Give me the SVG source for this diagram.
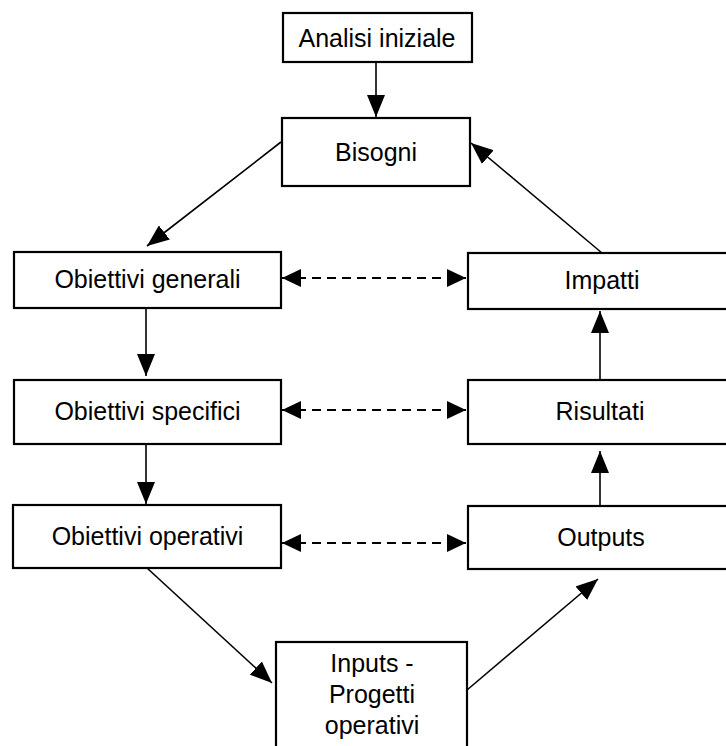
<svg xmlns="http://www.w3.org/2000/svg" width="726" height="746" viewBox="0 0 726 746">
  <style>
    .box { fill: #fff; stroke: #000; stroke-width: 2.2; }
    .lbl { font-family: "Liberation Sans", Arial, sans-serif; font-size: 25px; fill: #000; text-anchor: middle; }
    .conn { fill: none; stroke: #000; stroke-width: 1.6; }
    .dash { fill: none; stroke: #000; stroke-width: 2; stroke-dasharray: 9 6; }
  </style>
  <defs>
    <marker id="ah" viewBox="0 0 22 18" refX="22" refY="9" markerWidth="22" markerHeight="18" markerUnits="userSpaceOnUse" orient="auto-start-reverse">
      <path d="M0,0 L22,9 L0,18 z" fill="#000"/>
    </marker>
    <marker id="dh" viewBox="0 0 19 18" refX="19" refY="9" markerWidth="19" markerHeight="18" markerUnits="userSpaceOnUse" orient="auto-start-reverse">
      <path d="M0,0 L19,9 L0,18 z" fill="#000"/>
    </marker>
  </defs>
  <rect width="726" height="746" fill="#fff"/>

  <g id="connectors">
    <line class="conn" x1="376" y1="62" x2="376" y2="117" marker-end="url(#ah)"/>
    <line class="conn" x1="281" y1="142" x2="147" y2="246" marker-end="url(#ah)"/>
    <line class="conn" x1="602" y1="253" x2="471" y2="143" marker-end="url(#ah)"/>
    <line class="conn" x1="146" y1="308" x2="146" y2="376" marker-end="url(#ah)"/>
    <line class="conn" x1="146" y1="444" x2="146" y2="504" marker-end="url(#ah)"/>
    <line class="conn" x1="147" y1="568" x2="272" y2="683" marker-end="url(#ah)"/>
    <line class="conn" x1="467" y1="690" x2="598" y2="579" marker-end="url(#ah)"/>
    <line class="conn" x1="600" y1="506" x2="600" y2="451" marker-end="url(#ah)"/>
    <line class="conn" x1="600" y1="380" x2="600" y2="311" marker-end="url(#ah)"/>
    <line class="dash" x1="282" y1="278" x2="466" y2="278" marker-start="url(#dh)" marker-end="url(#dh)"/>
    <line class="dash" x1="282" y1="410" x2="466" y2="410" marker-start="url(#dh)" marker-end="url(#dh)"/>
    <line class="dash" x1="282" y1="543" x2="466" y2="543" marker-start="url(#dh)" marker-end="url(#dh)"/>
  </g>

  <g id="analisi">
    <rect class="box" x="283" y="13" width="189" height="49"/>
    <text class="lbl" x="377" y="47">Analisi iniziale</text>
  </g>
  <g id="bisogni">
    <rect class="box" x="282" y="118" width="188" height="68"/>
    <text class="lbl" x="376" y="161">Bisogni</text>
  </g>
  <g id="obiettivi-generali">
    <rect class="box" x="14" y="252" width="267" height="56"/>
    <text class="lbl" x="147.5" y="288">Obiettivi generali</text>
  </g>
  <g id="obiettivi-specifici">
    <rect class="box" x="14" y="380" width="267" height="64"/>
    <text class="lbl" x="147.5" y="420">Obiettivi specifici</text>
  </g>
  <g id="obiettivi-operativi">
    <rect class="box" x="13" y="505" width="268" height="63"/>
    <text class="lbl" x="147.5" y="545">Obiettivi operativi</text>
  </g>
  <g id="impatti">
    <rect class="box" x="468" y="253" width="268" height="56"/>
    <text class="lbl" x="602" y="289">Impatti</text>
  </g>
  <g id="risultati">
    <rect class="box" x="468" y="380" width="268" height="64"/>
    <text class="lbl" x="600" y="420">Risultati</text>
  </g>
  <g id="outputs">
    <rect class="box" x="468" y="506" width="268" height="63"/>
    <text class="lbl" x="601" y="546">Outputs</text>
  </g>
  <g id="inputs">
    <rect class="box" x="276" y="642" width="191" height="130"/>
    <text class="lbl" x="372" y="672">Inputs -</text>
    <text class="lbl" x="372" y="703">Progetti</text>
    <text class="lbl" x="372" y="734">operativi</text>
  </g>
</svg>
